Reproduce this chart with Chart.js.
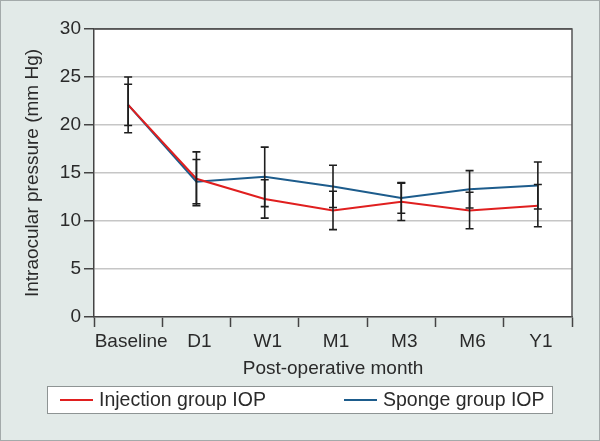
<!DOCTYPE html>
<html><head><meta charset="utf-8">
<script src="https://cdn.jsdelivr.net/npm/chart.js@4/dist/chart.umd.min.js"></script>
<style>html,body{margin:0;padding:0;background:#e2eae8}#wrap{width:600px;height:441px;position:relative}</style>
</head><body><div id="wrap"><canvas id="c" width="600" height="441"></canvas></div>
<script>
const categories = ['Baseline', 'D1', 'W1', 'M1', 'M3', 'M6', 'Y1'];
const injectionIOP = [22.1, 14.4, 12.3, 11.1, 12.0, 11.1, 11.6];
const injectionSD  = [2.9, 2.8, 2.0, 2.0, 1.95, 1.9, 2.2];
const spongeIOP    = [22.1, 14.1, 14.6, 13.6, 12.4, 13.3, 13.7];
const spongeSD     = [2.15, 2.3, 3.1, 2.2, 1.6, 1.95, 2.45];
const yTicks = [0, 5, 10, 15, 20, 25, 30];
const seriesLabels = ['Injection group IOP', 'Sponge group IOP'];
const xTitle = 'Post-operative month';
const yTitle = 'Intraocular pressure (mm Hg)';

const FONT = "'Liberation Sans', Arial, Helvetica, sans-serif";
const errs = [injectionSD, spongeSD];

const bgPlugin = {
  id: 'bg',
  beforeDraw(chart) {
    const {ctx, chartArea: a} = chart;
    ctx.save();
    ctx.fillStyle = '#e2eae8';
    ctx.fillRect(0, 0, chart.width, chart.height);
    ctx.fillStyle = '#ffffff';
    ctx.fillRect(a.left, a.top, a.right - a.left, a.bottom - a.top);
    ctx.restore();
  },
  beforeDatasetsDraw(chart) {
    const {ctx, chartArea: a} = chart;
    ctx.save();
    ctx.strokeStyle = '#555';
    ctx.lineWidth = 1.5;
    ctx.beginPath();
    ctx.moveTo(a.left, a.top);
    ctx.lineTo(a.right, a.top);
    ctx.lineTo(a.right, a.bottom);
    ctx.stroke();
    ctx.restore();
  },
  afterDatasetsDraw(chart) {
    const {ctx} = chart;
    const ys = chart.scales.y;
    ctx.save();
    ctx.strokeStyle = '#1e1e1e';
    ctx.lineWidth = 1.6;
    chart.data.datasets.forEach((ds, di) => {
      const meta = chart.getDatasetMeta(di);
      ds.data.forEach((v, i) => {
        const x = meta.data[i].x;
        const e = errs[di][i];
        const yt = ys.getPixelForValue(v + e);
        const yb = ys.getPixelForValue(v - e);
        ctx.beginPath();
        ctx.moveTo(x, yt); ctx.lineTo(x, yb);
        ctx.moveTo(x - 4, yt); ctx.lineTo(x + 4, yt);
        ctx.moveTo(x - 4, yb); ctx.lineTo(x + 4, yb);
        ctx.stroke();
      });
    });
    ctx.restore();
  },
  afterDraw(chart) {
    const {ctx} = chart;
    ctx.save();
    const bx = 47, by = 386, bw = 506, bh = 28;
    ctx.fillStyle = '#ffffff';
    ctx.fillRect(bx, by, bw, bh);
    ctx.strokeStyle = '#8e9494';
    ctx.lineWidth = 1;
    ctx.strokeRect(bx + 0.5, by + 0.5, bw - 1, bh - 1);
    const itemX = [60, 344];
    const cy = by + bh / 2;
    ctx.font = '19.5px ' + FONT;
    ctx.textBaseline = 'middle';
    ctx.textAlign = 'left';
    chart.data.datasets.forEach((ds, i) => {
      const x = itemX[i];
      ctx.strokeStyle = ds.borderColor;
      ctx.lineWidth = 2;
      ctx.beginPath();
      ctx.moveTo(x, cy); ctx.lineTo(x + 33, cy);
      ctx.stroke();
      ctx.fillStyle = '#2a2a2a';
      ctx.fillText(ds.label, x + 39, cy + 1);
    });
    ctx.strokeStyle = '#a3aaaa';
    ctx.lineWidth = 1;
    ctx.strokeRect(0.5, 0.5, chart.width - 1, chart.height - 1);
    ctx.restore();
  }
};

Chart.defaults.font.family = FONT;
Chart.defaults.font.size = 19;
Chart.defaults.color = '#2a2a2a';

new Chart(document.getElementById('c'), {
  type: 'line',
  data: {
    labels: categories,
    datasets: [
      { label: seriesLabels[0], data: injectionIOP, borderColor: '#e01f1f', backgroundColor: '#e01f1f', borderWidth: 2, pointRadius: 0, tension: 0 },
      { label: seriesLabels[1], data: spongeIOP, borderColor: '#1d5c8c', backgroundColor: '#1d5c8c', borderWidth: 2, pointRadius: 0, tension: 0 }
    ]
  },
  options: {
    responsive: false,
    devicePixelRatio: 1,
    animation: false,
    layout: { padding: { top: 29, right: 28, bottom: 61, left: 0 } },
    plugins: { legend: { display: false }, tooltip: { enabled: false } },
    scales: {
      x: {
        offset: true,
        grid: { display: true, offset: true, drawOnChartArea: false, drawTicks: true, tickLength: 10, tickColor: '#444', tickWidth: 1.5 },
        border: { color: '#444', width: 1.5 },
        ticks: { padding: 3, color: '#2a2a2a', maxRotation: 0, autoSkip: false, labelOffset: 3 },
        title: { display: true, text: xTitle, color: '#2a2a2a', padding: { top: 0, bottom: 0 } },
        afterFit(s) { s.height = 63; }
      },
      y: {
        min: 0, max: 30,
        afterBuildTicks(s) { s.ticks = yTicks.map(v => ({ value: v })); },
        grid: {
          color: c => (c.tick && c.tick.value === 30) ? '#555' : '#c6c6c6',
          lineWidth: 1.5, tickLength: 10, tickColor: '#444', tickWidth: 1.5
        },
        border: { color: '#444', width: 1.5 },
        ticks: { padding: 3, color: '#2a2a2a' },
        title: { display: true, text: yTitle, color: '#2a2a2a', padding: { top: 21, bottom: 0 } },
        afterFit(s) { s.width = 94; }
      }
    }
  },
  plugins: [bgPlugin]
});
</script>
</body></html>
